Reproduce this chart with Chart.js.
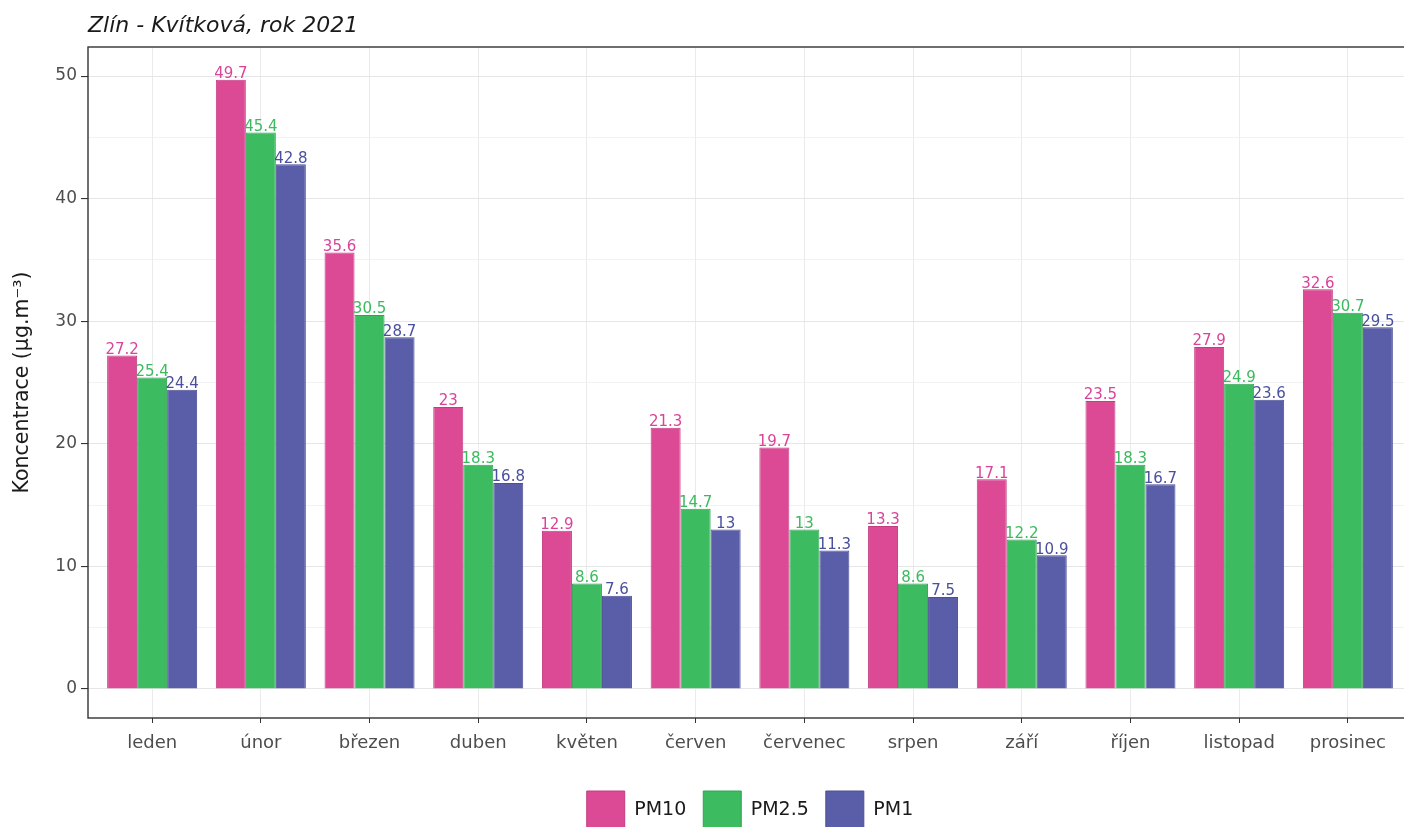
<!DOCTYPE html>
<html>
<head>
<meta charset="utf-8">
<script src="https://cdn.jsdelivr.net/npm/chart.js@4.4.1/dist/chart.umd.min.js"></script>
<style>
html, body { margin: 0; padding: 0; background: #fff; overflow: hidden; }
#wrap { position: relative; width: 1420px; height: 859px; }
</style>
</head>
<body>
<div id="wrap"><canvas id="pm-chart"></canvas></div>
<script>
const months = ['leden', 'únor', 'březen', 'duben', 'květen', 'červen', 'červenec', 'srpen', 'září', 'říjen', 'listopad', 'prosinec'];
const pm10 = [27.2, 49.7, 35.6, 23, 12.9, 21.3, 19.7, 13.3, 17.1, 23.5, 27.9, 32.6];
const pm25 = [25.4, 45.4, 30.5, 18.3, 8.6, 14.7, 13, 8.6, 12.2, 18.3, 24.9, 30.7];
const pm1 = [24.4, 42.8, 28.7, 16.8, 7.6, 13, 11.3, 7.5, 10.9, 16.7, 23.6, 29.5];
const yTicks = [0, 5, 10, 15, 20, 25, 30, 35, 40, 45, 50];

const FONT = '"DejaVu Sans", "Liberation Sans", sans-serif';

function toPoints(values) {
    return values.map((v, i) => ({ x: i, y: v }));
}

// value labels above each bar, in the series colour
const valueLabels = {
    id: 'valueLabels',
    afterDatasetsDraw(chart) {
        const ctx = chart.ctx;
        ctx.save();
        ctx.font = '15px ' + FONT;
        ctx.textAlign = 'center';
        ctx.textBaseline = 'bottom';
        chart.data.datasets.forEach((ds, i) => {
            const meta = chart.getDatasetMeta(i);
            ctx.fillStyle = ds.labelColor;
            meta.data.forEach((bar, j) => {
                ctx.fillText(String(ds.data[j].y), bar.x, bar.y + 2);
            });
        });
        ctx.restore();
    }
};

// panel border like theme_bw, title over the panel, legend centred on it
const panel = {
    id: 'panel',
    afterLayout(chart) {
        const a = chart.chartArea;
        if (chart.titleBlock) {
            const w = chart.titleBlock.right - chart.titleBlock.left;
            chart.titleBlock.left = a.left;
            chart.titleBlock.right = a.left + w;
        }
        if (chart.legend) {
            const mid = (chart.legend.left + chart.legend.right) / 2;
            const shift = (a.left + a.right) / 2 - mid;
            chart.legend.left += shift;
            chart.legend.right += shift;
        }
    },
    afterDraw(chart) {
        const a = chart.chartArea;
        const ctx = chart.ctx;
        ctx.save();
        ctx.strokeStyle = '#333333';
        ctx.lineWidth = 1.4;
        ctx.strokeRect(a.left, a.top, a.right - a.left, a.bottom - a.top);
        ctx.restore();
    }
};

const ctx = document.getElementById('pm-chart').getContext('2d');
new Chart(ctx, {
    type: 'bar',
    data: {
        datasets: [
            { label: 'PM10', data: toPoints(pm10), backgroundColor: '#dc4a96', borderColor: '#c23c82', labelColor: '#d8449a' },
            { label: 'PM2.5', data: toPoints(pm25), backgroundColor: '#3dbb60', borderColor: '#33a253', labelColor: '#3cba5f' },
            { label: 'PM1', data: toPoints(pm1), backgroundColor: '#5a5ea9', borderColor: '#4b4f94', labelColor: '#4a4f9e' }
        ]
    },
    options: {
        responsive: true,
        maintainAspectRatio: false,
        animation: false,
        layout: { padding: { left: 0, right: 8, top: 0, bottom: 20 } },
        datasets: {
            bar: { categoryPercentage: 0.828, barPercentage: 1, borderWidth: 1 }
        },
        plugins: {
            title: {
                display: true,
                text: 'Zlín - Kvítková, rok 2021',
                align: 'start',
                color: '#1a1a1a',
                font: { family: FONT, size: 22, style: 'italic', weight: 'normal' },
                padding: { top: 13, bottom: 7.6 }
            },
            legend: {
                position: 'bottom',
                labels: {
                    boxWidth: 38,
                    boxHeight: 38,
                    padding: 17,
                    color: '#1a1a1a',
                    font: { family: FONT, size: 19 }
                }
            },
            tooltip: { enabled: false }
        },
        scales: {
            x: {
                type: 'linear',
                offset: false,
                min: -0.59,
                max: 11.59,
                afterBuildTicks(scale) {
                    scale.ticks = months.map((m, i) => ({ value: i }));
                },
                afterFit(scale) { scale.height = 56; },
                ticks: {
                    autoSkip: false,
                    maxRotation: 0,
                    padding: 10,
                    color: '#4d4d4d',
                    font: { family: FONT, size: 18 },
                    callback(val) { return months[val]; }
                },
                grid: { offset: false, color: '#ebebeb', lineWidth: 1, tickLength: 5, tickColor: '#333333' },
                border: { display: false }
            },
            y: {
                min: -2.37,
                max: 52.37,
                afterBuildTicks(scale) {
                    scale.ticks = yTicks.map(v => ({ value: v }));
                },
                afterFit(scale) { scale.width = 88; },
                ticks: {
                    padding: 4,
                    color: '#4d4d4d',
                    font: { family: FONT, size: 17 },
                    callback(val) { return val % 10 === 0 ? String(val) : ''; }
                },
                grid: {
                    color(c) { return c.tick && c.tick.value % 10 === 0 ? '#e6e6e6' : '#efefef'; },
                    lineWidth(c) { return c.tick && c.tick.value % 10 === 0 ? 1.1 : 0.8; },
                    tickLength: 7,
                    tickColor(c) { return c.tick && c.tick.value % 10 === 0 ? '#333333' : 'rgba(0,0,0,0)'; }
                },
                border: { display: false },
                title: {
                    display: true,
                    text: 'Koncentrace (µg.m⁻³)',
                    color: '#1a1a1a',
                    font: { family: FONT, size: 20.5 },
                    padding: { top: 10, bottom: 0 }
                }
            }
        }
    },
    plugins: [valueLabels, panel]
});
</script>
</body>
</html>
